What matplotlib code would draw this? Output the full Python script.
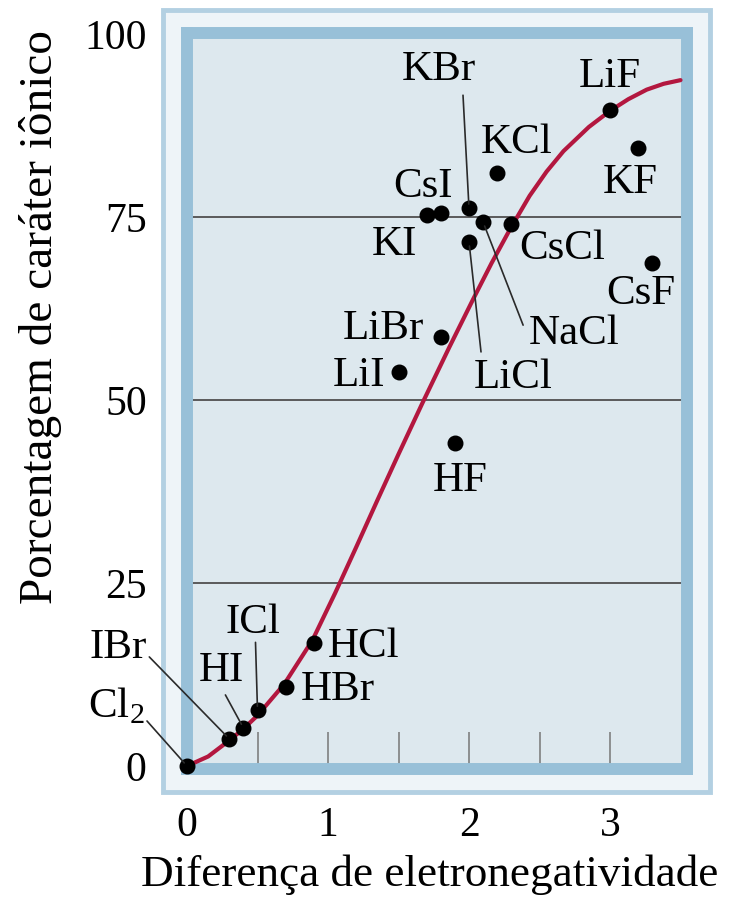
import matplotlib
matplotlib.use('Agg')
import matplotlib.pyplot as plt
from matplotlib.patches import Rectangle

plt.rcParams['font.family'] = ['Liberation Serif', 'DejaVu Serif']
plt.rcParams['mathtext.fontset'] = 'custom'
plt.rcParams['mathtext.rm'] = 'Liberation Serif'

# compounds: electronegativity difference vs % ionic character
compounds = ['LiF', 'KF', 'CsF', 'KCl', 'KBr', 'NaCl', 'CsCl', 'LiCl', 'KI', 'CsI',
             'LiBr', 'LiI', 'HF', 'HCl', 'HBr', 'ICl', 'HI', 'IBr', 'Cl$_\\mathrm{2}$']
delta_en = [3.0, 3.2, 3.3, 2.2, 2.0, 2.1, 2.3, 2.0, 1.7, 1.8,
            1.8, 1.5, 1.9, 0.9, 0.7, 0.5, 0.4, 0.3, 0.0]
ionic_pct = [89.6, 84.4, 68.7, 81.0, 76.2, 74.3, 74.0, 71.6, 75.3, 75.6,
             58.6, 53.8, 44.1, 16.8, 10.8, 7.6, 5.2, 3.7, 0.0]

# red curve
curve_x = [0, 0.15, 0.28, 0.39, 0.5, 0.69, 0.89, 1.05, 1.2, 1.35, 1.5, 1.67,
           1.86, 2.03, 2.16, 2.29, 2.43, 2.55, 2.67, 2.85, 3.0, 3.13, 3.26,
           3.38, 3.5]
curve_y = [0, 1.3, 3.2, 4.9, 6.9, 11.2, 17.2, 23.6, 29.9, 36.3, 42.6, 49.6,
           57.2, 63.8, 68.7, 73.3, 77.9, 81.2, 84.0, 87.3, 89.5, 91.1, 92.4,
           93.2, 93.7]

# label offsets from the dot (pixels), and optional leader end offsets
label_off = {
    'LiF': (0, 33), 'KF': (-8, -35), 'CsF': (-12, -31), 'KCl': (19, 30),
    'KBr': (-30, 138), 'NaCl': (91, -112), 'CsCl': (51, -24), 'LiCl': (44, -136),
    'KI': (-32, -30), 'CsI': (-18, 26), 'LiBr': (-57, 8), 'LiI': (-40, -4),
    'HF': (5, -38), 'HCl': (50, -4), 'HBr': (52, -3), 'ICl': (-5, 88),
    'HI': (-22, 57), 'IBr': (-111, 91), 'Cl$_\\mathrm{2}$': (-71, 60),
}
leader_off = {
    'KBr': (-6, 113), 'NaCl': (40, -103), 'LiCl': (12, -110), 'ICl': (-2, 68),
    'HI': (-18, 33), 'IBr': (-80, 82), 'Cl$_\\mathrm{2}$': (-40, 45),
}

W, H = 736, 902
fig = plt.figure(figsize=(W / 100, H / 100), dpi=100)

# outer light frame, behind the axes
frame = Rectangle((163 / W, 1 - 792 / H), (710 - 163) / W, (792 - 10) / H,
                  transform=fig.transFigure, facecolor='#eef4f8',
                  edgecolor='#b3d0e2', lw=3.5, zorder=-1)
fig.add_artist(frame)

ax = fig.add_axes([187 / W, 1 - 769 / H, 500 / W, 736 / H])
ax.set_facecolor('#dde8ee')
ax.set_xlim(0, 3.546)
ax.set_ylim(-0.41, 100.14)

for sp in ax.spines.values():
    sp.set_color('#98c0d8')
    sp.set_linewidth(8.6)
    sp.set_capstyle('projecting')
    sp.set_zorder(2.6)

ax.set_yticks([0, 25, 50, 75, 100])
ax.set_axisbelow(True)
ax.yaxis.grid(True, color='#5a5a5a', lw=1.4)
ax.tick_params(axis='y', length=0, pad=29, labelsize=30)

ax.set_xticks([0, 1, 2, 3])
ax.set_xticks([0.5, 1.5, 2.5], minor=True)
ax.tick_params(axis='x', which='both', direction='in', length=27, width=1.1,
               color='#777777', pad=27, labelsize=30)

ax.plot(curve_x, curve_y, color='#b3173f', lw=3, zorder=4,
        solid_capstyle='round', solid_joinstyle='round')
ax.scatter(delta_en, ionic_pct, s=110, color='black', zorder=5, clip_on=False)

for name, x, y in zip(compounds, delta_en, ionic_pct):
    dx, dy = label_off[name]
    ax.annotate(name, (x, y), xytext=(dx, dy), textcoords='offset pixels',
                ha='center', va='center', fontsize=31, zorder=6)
    if name in leader_off:
        lx, ly = leader_off[name]
        ax.annotate('', (x, y), xytext=(lx, ly), textcoords='offset pixels',
                    arrowprops=dict(arrowstyle='-', color='#2a2a2a', lw=1.2,
                                    shrinkA=0, shrinkB=3), zorder=6)

ax.set_xlabel('Diferença de eletronegatividade', fontsize=32.5)
ax.xaxis.set_label_coords(0.486, -0.159)
ax.xaxis.label.set_va('baseline')
ax.set_ylabel('Porcentagem de caráter iônico', fontsize=34)
ax.yaxis.set_label_coords(-0.292, 0.614)
ax.yaxis.label.set_va('center')

fig.savefig('out.png', dpi=100)
